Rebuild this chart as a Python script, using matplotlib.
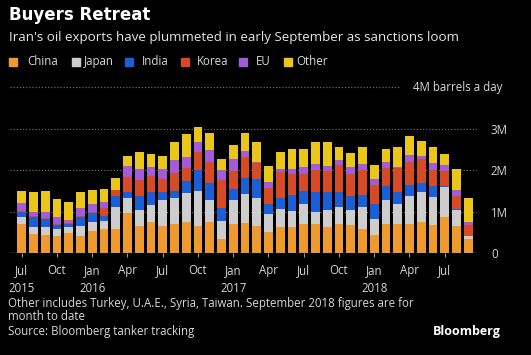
import matplotlib
matplotlib.use("Agg")
import matplotlib.pyplot as plt
import numpy as np

plt.rcParams['font.family'] = ['Open Sans', 'DejaVu Sans']

months = ["Jul 2015","Aug 2015","Sep 2015","Oct 2015","Nov 2015","Dec 2015",
          "Jan 2016","Feb 2016","Mar 2016","Apr 2016","May 2016","Jun 2016",
          "Jul 2016","Aug 2016","Sep 2016","Oct 2016","Nov 2016","Dec 2016",
          "Jan 2017","Feb 2017","Mar 2017","Apr 2017","May 2017","Jun 2017",
          "Jul 2017","Aug 2017","Sep 2017","Oct 2017","Nov 2017","Dec 2017",
          "Jan 2018","Feb 2018","Mar 2018","Apr 2018","May 2018","Jun 2018",
          "Jul 2018","Aug 2018","Sep 2018"]

# million barrels a day
china = [0.70,0.47,0.43,0.41,0.49,0.41,0.53,0.59,0.59,0.96,0.65,0.76,
         0.65,0.70,0.76,0.65,0.76,0.35,0.71,0.73,0.65,0.51,0.63,0.62,
         0.70,0.70,0.63,0.70,0.67,0.59,0.43,0.70,0.70,0.71,0.76,0.67,
         0.88,0.65,0.33]
japan = [0.18,0.16,0.19,0.18,0.13,0.24,0.21,0.18,0.51,0.36,0.40,0.40,
         0.63,0.62,0.68,0.85,0.52,0.42,0.56,0.69,0.69,0.42,0.43,0.39,
         0.48,0.30,0.40,0.42,0.38,0.52,0.40,0.58,0.48,0.66,0.72,0.68,
         0.72,0.39,0.08]
india = [0.12,0.24,0.20,0.08,0.08,0.22,0.23,0.13,0.28,0.16,0.32,0.32,
         0.20,0.18,0.30,0.50,0.40,0.31,0.28,0.38,0.45,0.25,0.26,0.39,
         0.32,0.48,0.44,0.36,0.32,0.30,0.35,0.34,0.30,0.27,0.20,0.28,
         0.02,0.02,0.00]
korea = [0.02,0.02,0.02,0.03,0.02,0.02,0.02,0.18,0.13,0.36,0.39,0.38,
         0.30,0.43,0.31,0.43,0.52,0.68,0.44,0.51,0.39,0.40,0.64,0.50,
         0.42,0.52,0.52,0.64,0.55,0.59,0.47,0.43,0.58,0.56,0.58,0.38,
         0.35,0.31,0.27]
eu = [0.18,0.11,0.14,0.16,0.08,0.20,0.20,0.16,0.00,0.27,0.28,0.22,
      0.24,0.32,0.27,0.26,0.28,0.24,0.27,0.16,0.03,0.14,0.08,0.12,
      0.16,0.16,0.12,0.12,0.16,0.14,0.13,0.16,0.02,0.16,0.08,0.16,
      0.16,0.16,0.08]
other = [0.30,0.47,0.52,0.45,0.42,0.38,0.34,0.30,0.30,0.24,0.39,0.30,
         0.33,0.43,0.55,0.35,0.43,0.28,0.36,0.42,0.47,0.38,0.39,0.49,
         0.43,0.52,0.58,0.31,0.34,0.42,0.34,0.30,0.48,0.46,0.37,0.40,
         0.27,0.50,0.56]

series_names = ["China", "Japan", "India", "Korea", "EU", "Other"]
series_vals = [china, japan, india, korea, eu, other]
colors = ["#ef9a2e", "#cdcdcd", "#1b5fd6", "#d64b26", "#a45bd8", "#e9c619"]

tick_idx = list(range(0, 39, 3))
tick_labels = ["Jul\n2015", "Oct", "Jan\n2016", "Apr", "Jul", "Oct",
               "Jan\n2017", "Apr", "Jul", "Oct", "Jan\n2018", "Apr", "Jul"]
y_ticks = [0, 1, 2, 3]
y_labels = ["0", "1M", "2M", "3M"]

W, H = 531, 355
fig = plt.figure(figsize=(W/100, H/100), dpi=100, facecolor="black")
ax = fig.add_axes([10/W, 102/H, 467/W, 4.1*41.4/H])
ax.set_facecolor("black")

x = np.arange(len(months))
bottom = np.zeros(len(months))
for name, vals, c in zip(series_names, series_vals, colors):
    v = np.array(vals)
    ax.bar(x, v, bottom=bottom, width=0.74, color=c, linewidth=0, zorder=3)
    bottom += v

ax.set_xlim(-1.0, 38.75)
ax.set_ylim(0, 4.1)

for s in ax.spines.values():
    s.set_visible(False)
ax.axhline(0, color="#9a9a9a", lw=1.0, zorder=4)
for yv in [1, 2, 3]:
    ax.axhline(yv, color="#6a6a6a", lw=0.9, ls=(0, (1, 1.5)), zorder=1)
ax.plot([-1.0, 32.2], [4, 4], color="#6a6a6a", lw=0.9, ls=(0, (1, 1.5)), zorder=1, clip_on=False)

ax.set_xticks(tick_idx)
ax.set_xticklabels(tick_labels, color="#d8d8d8", fontsize=8.3, linespacing=1.5)
ax.tick_params(axis="x", length=3, color="#9a9a9a", pad=5, direction="out")
ax.yaxis.tick_right()
ax.set_yticks(y_ticks)
ax.set_yticklabels(y_labels, color="#d8d8d8", fontsize=8.3)
ax.tick_params(axis="y", length=0, pad=10)
for lab in ax.get_yticklabels():
    lab.set_horizontalalignment("left")

fig.text(502/W, 1 - 87/H, "4M barrels a day", color="#d8d8d8", fontsize=8.3,
         ha="right", va="center")

fig.text(9/W, 1 - 15/H, "Buyers Retreat", color="white", fontsize=12,
         fontweight="bold", family="DejaVu Sans", ha="left", va="center")
fig.text(9/W, 1 - 37/H,
         "Iran's oil exports have plummeted in early September as sanctions loom",
         color="#e6e6e6", fontsize=9.6, ha="left", va="center")

# legend
leg_sq_x = [9, 72, 125, 181, 239, 284]
leg_tx_x = [27, 84, 142, 197, 256, 296]
for lx, tx, name, c in zip(leg_sq_x, leg_tx_x, series_names, colors):
    fig.patches.append(plt.Rectangle((lx/W, 1 - 65.5/H), 8/W, 8/H, color=c,
                                     transform=fig.transFigure, figure=fig))
    fig.text(tx/W, 1 - 61.5/H, name, color="#d8d8d8", fontsize=8.3,
             ha="left", va="center")

fig.text(8/W, 1 - 303/H,
         "Other includes Turkey, U.A.E., Syria, Taiwan. September 2018 figures are for",
         color="#d8d8d8", fontsize=8.3, ha="left", va="center")
fig.text(8/W, 1 - 317/H, "month to date", color="#d8d8d8", fontsize=8.3,
         ha="left", va="center")
fig.text(8/W, 1 - 332/H, "Source: Bloomberg tanker tracking", color="#d8d8d8",
         fontsize=8.3, ha="left", va="center")
fig.text(501/W, 1 - 332/H, "Bloomberg", color="white", fontsize=9,
         fontweight="bold", ha="right", va="center")

fig.savefig("out.png", dpi=100, facecolor="black")
